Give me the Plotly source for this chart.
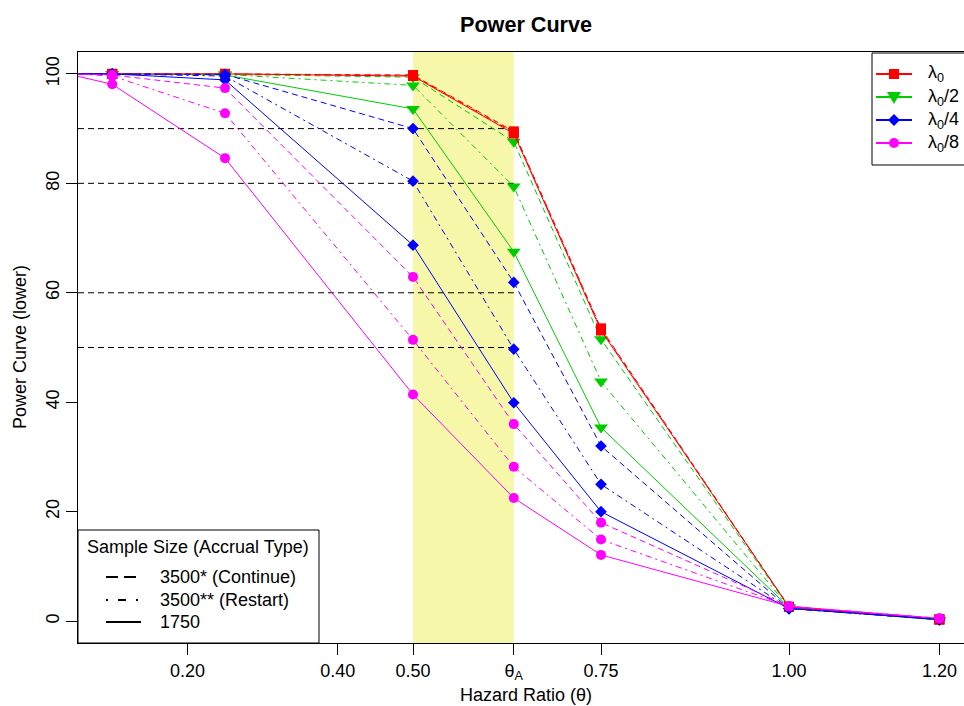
import plotly.graph_objects as go

# ---- data -------------------------------------------------------------
THETA_A = 0.634  # alternative hazard ratio marked on the axis
hazard_ratio = [0.05, 0.10, 0.25, 0.50, THETA_A, 0.75, 1.00, 1.20]

# lambda_0
red_continue = [100.0, 100.0, 100.0, 99.8, 89.5, 53.5, 2.6, 0.3]
red_restart = [100.0, 100.0, 100.0, 99.7, 89.3, 53.3, 2.6, 0.3]
red_1750 = [100.0, 100.0, 100.0, 99.6, 89.1, 53.1, 2.6, 0.3]
# lambda_0 / 2
green_continue = [100.0, 100.0, 99.9, 99.4, 87.6, 51.5, 2.5, 0.2]
green_restart = [100.0, 100.0, 99.9, 97.9, 79.4, 43.8, 2.5, 0.2]
green_1750 = [100.0, 100.0, 99.8, 93.6, 67.5, 35.4, 2.5, 0.2]
# lambda_0 / 4
blue_continue = [100.0, 100.0, 99.9, 90.0, 61.9, 32.0, 2.3, 0.3]
blue_restart = [100.0, 100.0, 99.6, 80.4, 49.7, 25.0, 2.3, 0.3]
blue_1750 = [100.0, 100.0, 98.9, 68.7, 39.9, 20.0, 2.3, 0.3]
# lambda_0 / 8
magenta_continue = [100.0, 99.8, 97.4, 62.9, 36.0, 18.0, 2.7, 0.5]
magenta_restart = [100.0, 99.6, 92.8, 51.4, 28.2, 14.9, 2.7, 0.5]
magenta_1750 = [99.7, 98.1, 84.6, 41.4, 22.5, 12.1, 2.7, 0.5]

target_levels = [90, 80, 60, 50]

x_tick_values = [0.20, 0.40, 0.50, THETA_A, 0.75, 1.00, 1.20]
x_tick_labels = ["0.20", "0.40", "0.50", "θ<sub>A</sub>", "0.75", "1.00", "1.20"]
y_tick_values = [0, 20, 40, 60, 80, 100]

rate_labels = ["λ<sub>0</sub>", "λ<sub>0</sub>/2", "λ<sub>0</sub>/4", "λ<sub>0</sub>/8"]
size_labels = ["3500* (Continue)", "3500** (Restart)", "1750"]

# ---- styles -----------------------------------------------------------
FONT = "Liberation Sans, Arial, Helvetica, sans-serif"
RED, GREEN, BLUE, MAGENTA = "#FF0000", "#00CD00", "#0000FF", "#FF00FF"
DASHED = "6px,4px"
DOTDASH = "2px,4px,6px,4px"

# (colour, marker, marker size, series); drawing order bottom -> top
groups = [
    (GREEN, "triangle-down", 12, [green_1750, green_restart, green_continue]),
    (RED, "square", 10, [red_1750, red_restart, red_continue]),
    (BLUE, "diamond", 9, [blue_1750, blue_restart, blue_continue]),
    (MAGENTA, "circle", 10, [magenta_1750, magenta_restart, magenta_continue]),
]
legend_order = [groups[1], groups[0], groups[2], groups[3]]
dashes = ["solid", DOTDASH, DASHED]

# plot box in pixels
L, T, B = 78, 52, 63
W, H = 964, 706
PW, PH = W - L, H - T - B
X_RANGE = [0.0545, 1.2327]
Y_RANGE = [-4, 104]


def px(x):
    return (x - L) / PW


def py(y):
    return (H - B - y) / PH


fig = go.Figure()

for color, symbol, msize, series in groups:
    # the leading point only anchors the line off the left edge; no marker there
    sizes = [0 if x < X_RANGE[0] else msize for x in hazard_ratio]
    for values, dash in zip(series, dashes):
        fig.add_trace(go.Scatter(
            x=hazard_ratio, y=values, mode="lines+markers",
            line=dict(color=color, width=1, dash=dash),
            marker=dict(color=color, symbol=symbol, size=sizes, opacity=1, line=dict(width=0)),
            showlegend=False, hoverinfo="skip",
        ))

shapes = []
# shaded region between 0.50 and theta_A
shapes.append(dict(type="rect", xref="x", yref="paper", x0=0.5, x1=THETA_A, y0=0, y1=1,
                   fillcolor="rgb(247,247,170)", line=dict(width=0), layer="below"))
# target power reference lines
for lvl in target_levels:
    shapes.append(dict(type="line", xref="x", yref="y", x0=X_RANGE[0], x1=THETA_A, y0=lvl, y1=lvl,
                       line=dict(color="black", width=1, dash=DASHED), layer="below"))

annotations = []

# ---- legend: arrival rate (top right) ----
shapes.append(dict(type="rect", xref="paper", yref="paper", x0=px(872), x1=px(1010),
                   y0=py(165), y1=py(53), line=dict(color="black", width=1),
                   fillcolor="white", layer="above"))
leg_rows = [74, 97, 120, 143]
for (color, symbol, msize, _), label, yy in zip(legend_order, rate_labels, leg_rows):
    shapes.append(dict(type="line", xref="paper", yref="paper", x0=px(876), x1=px(912),
                       y0=py(yy), y1=py(yy), line=dict(color=color, width=2), layer="above"))
    cx = 894
    if symbol == "square":
        shapes.append(dict(type="rect", xref="paper", yref="paper", x0=px(cx - 5), x1=px(cx + 5),
                           y0=py(yy + 5), y1=py(yy - 5), fillcolor=color, line=dict(width=0), layer="above"))
    elif symbol == "circle":
        shapes.append(dict(type="circle", xref="paper", yref="paper", x0=px(cx - 5), x1=px(cx + 5),
                           y0=py(yy + 5), y1=py(yy - 5), fillcolor=color, line=dict(width=0), layer="above"))
    elif symbol == "diamond":
        path = (f"M{px(cx - 6)},{py(yy)} L{px(cx)},{py(yy - 6)} L{px(cx + 6)},{py(yy)} "
                f"L{px(cx)},{py(yy + 6)} Z")
        shapes.append(dict(type="path", xref="paper", yref="paper", path=path,
                           fillcolor=color, line=dict(width=0), layer="above"))
    else:
        path = (f"M{px(cx - 7)},{py(yy - 5)} L{px(cx + 7)},{py(yy - 5)} L{px(cx)},{py(yy + 7)} Z")
        shapes.append(dict(type="path", xref="paper", yref="paper", path=path,
                           fillcolor=color, line=dict(width=0), layer="above"))
    annotations.append(dict(xref="paper", yref="paper", x=px(926), y=py(yy), text=label,
                            showarrow=False, xanchor="left", yanchor="middle",
                            font=dict(size=18, family=FONT, color="black")))

# ---- legend: sample size (bottom left) ----
shapes.append(dict(type="rect", xref="paper", yref="paper", x0=px(78), x1=px(319),
                   y0=py(643), y1=py(530), line=dict(color="black", width=1),
                   fillcolor="white", layer="above"))
annotations.append(dict(xref="paper", yref="paper", x=px(198), y=py(547),
                        text="Sample Size (Accrual Type)", showarrow=False,
                        xanchor="center", yanchor="middle",
                        font=dict(size=18, family=FONT, color="black")))
for label, dash, yy in zip(size_labels, ["12px,6px", "2px,10px,8px,10px", "solid"], [577, 600, 622]):
    shapes.append(dict(type="line", xref="paper", yref="paper", x0=px(106), x1=px(141),
                       y0=py(yy), y1=py(yy), line=dict(color="black", width=2, dash=dash), layer="above"))
    annotations.append(dict(xref="paper", yref="paper", x=px(158), y=py(yy), text=label,
                            showarrow=False, xanchor="left", yanchor="middle",
                            font=dict(size=18, family=FONT, color="black")))

# ---- titles ----
annotations.append(dict(xref="paper", yref="paper", x=px(526), y=py(24), text="<b>Power Curve</b>",
                        showarrow=False, xanchor="center", yanchor="middle",
                        font=dict(size=21.6, family=FONT, color="black")))
annotations.append(dict(xref="paper", yref="paper", x=px(526), y=py(695), text="Hazard Ratio (θ)",
                        showarrow=False, xanchor="center", yanchor="middle", borderpad=0,
                        font=dict(size=18, family=FONT, color="black")))
annotations.append(dict(xref="paper", yref="paper", x=px(20), y=py(347), text="Power Curve (lower)",
                        showarrow=False, xanchor="center", yanchor="middle", textangle=-90,
                        font=dict(size=18, family=FONT, color="black")))

axis_common = dict(showgrid=False, zeroline=False, showline=True, linecolor="black", linewidth=1,
                   ticks="outside", ticklen=11, tickwidth=1, tickcolor="black",
                   tickfont=dict(size=18, family=FONT, color="black"))

fig.update_layout(
    width=W, height=H,
    margin=dict(l=L, r=0, t=T, b=B, pad=0),
    plot_bgcolor="white", paper_bgcolor="white",
    showlegend=False,
    font=dict(family=FONT, size=18, color="black"),
    xaxis=dict(range=X_RANGE, tickmode="array", tickvals=x_tick_values, ticktext=x_tick_labels,
               mirror=True, ticklabelstandoff=0, **axis_common),
    yaxis=dict(range=Y_RANGE, tickmode="array", tickvals=y_tick_values, tickangle=-90,
               mirror=False, **axis_common),
    shapes=shapes,
    annotations=annotations,
)

fig.write_html("out.html")
